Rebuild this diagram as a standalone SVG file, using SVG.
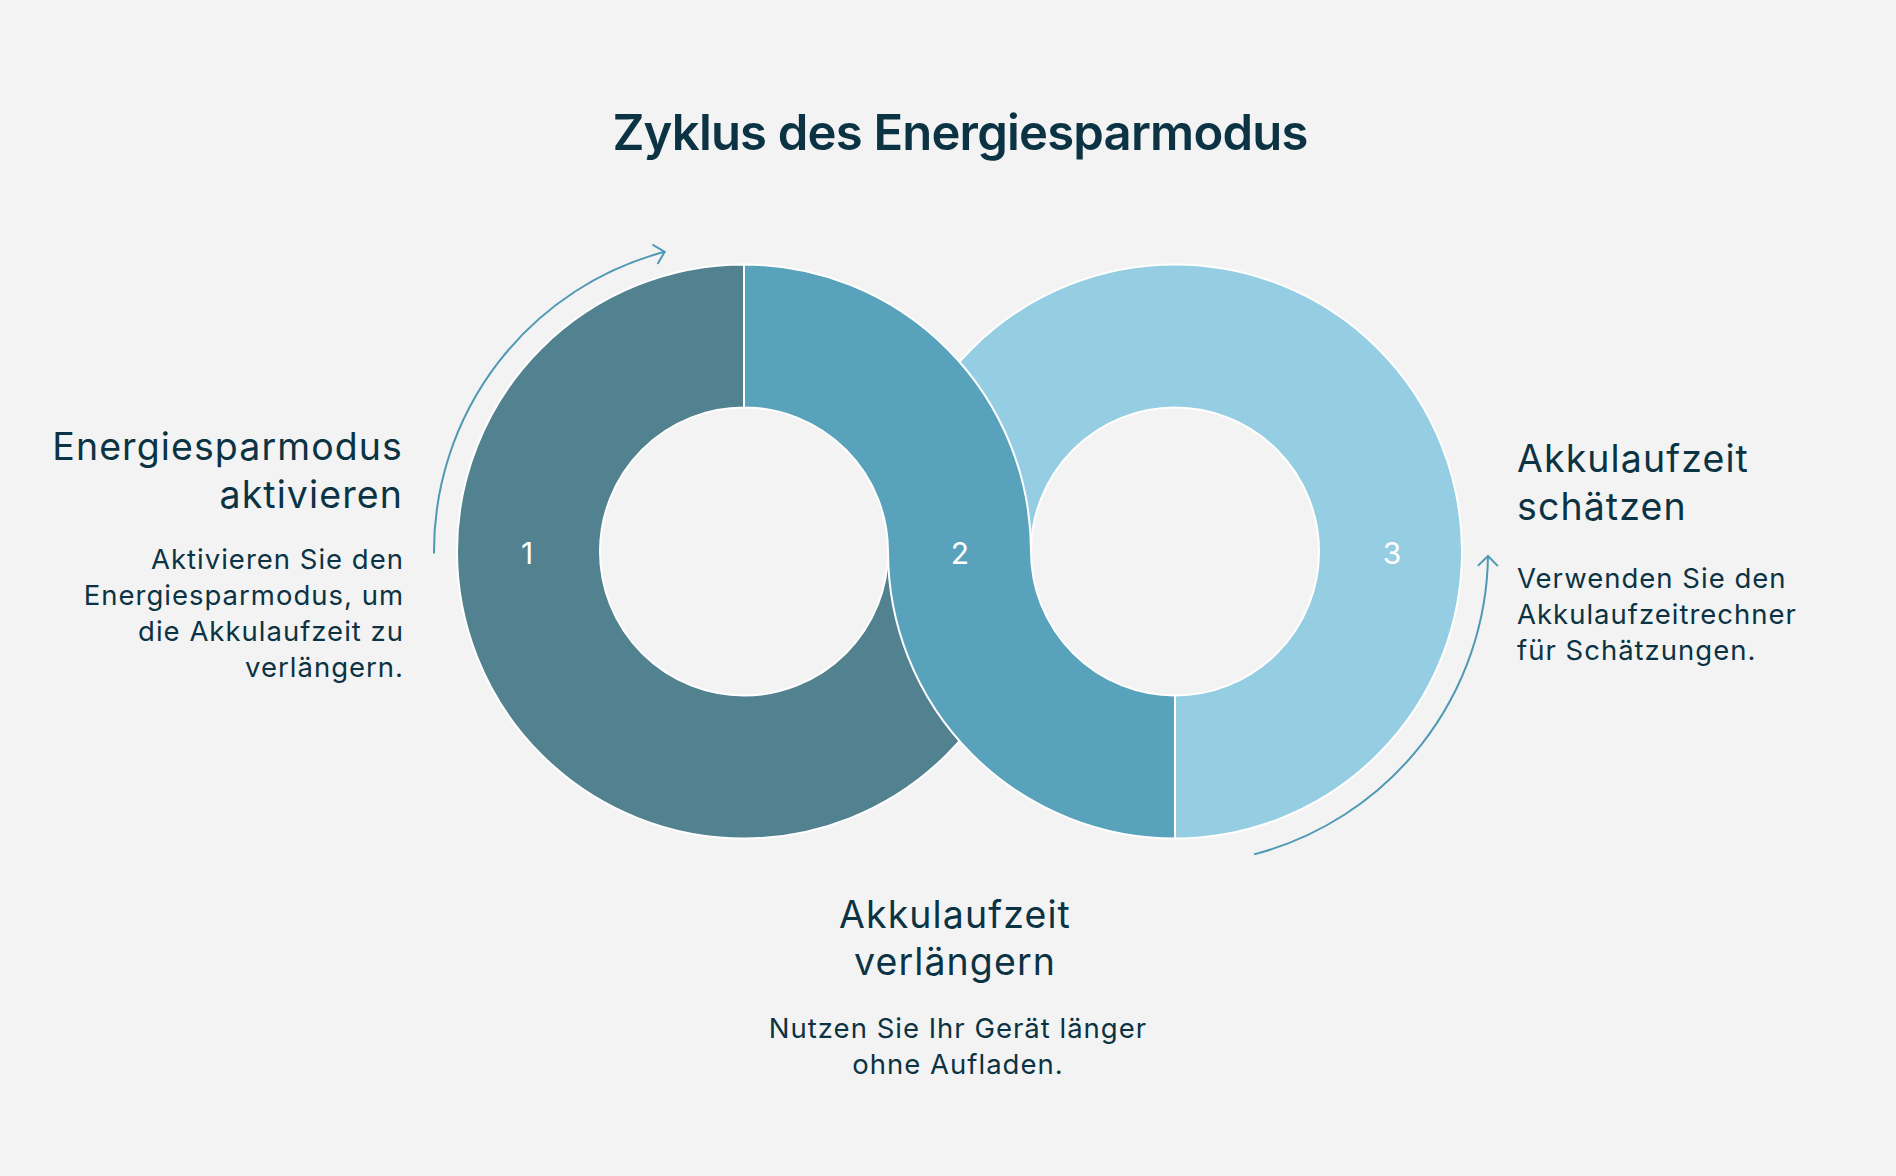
<svg xmlns="http://www.w3.org/2000/svg" width="1896" height="1176" viewBox="0 0 1896 1176">
<style>
.t{font-family:Inter,"Noto Sans",sans-serif;fill:#0b3344}
.title{font-size:49px;font-weight:600;letter-spacing:-0.8px}
.h{font-size:37.5px;letter-spacing:1.1px}
.b{font-size:27.5px;letter-spacing:1px}
.num{font-family:Inter,"Noto Sans",sans-serif;font-size:30px;fill:#ffffff;text-anchor:middle}
.seg{stroke:#ffffff;stroke-width:2;stroke-linejoin:round}
.arr{fill:none;stroke:#5099b4;stroke-width:2}
</style>
<defs>
<marker id="ah" markerUnits="userSpaceOnUse" markerWidth="30" markerHeight="30" viewBox="-15 -15 30 30" refX="0" refY="0" orient="auto">
<path d="M-10,-10 L0,0 L-10,10" fill="none" stroke="#5099b4" stroke-width="2"/>
</marker>
</defs>
<rect width="1896" height="1176" fill="#f3f3f3"/>
<text class="t title" x="960" y="150" text-anchor="middle">Zyklus des Energiesparmodus</text>
<g id="seg3">
<path class="seg" fill="#95cee2" d="M1175,838.5 A287,287 0 1 0 888,551.5 L1031,551.5 A144,144 0 1 1 1175,695.5 Z"/>
<text class="num" x="1392" y="564">3</text>
</g>
<g id="seg1">
<path class="seg" fill="#52818f" d="M744,264.5 A287,287 0 1 0 1031,551.5 L888,551.5 A144,144 0 1 1 744,407.5 Z"/>
<text class="num" x="527" y="564">1</text>
</g>
<g id="seg2">
<path class="seg" fill="#58a2bc" d="M744,264.5 A287,287 0 0 1 1031,551.5 A144,144 0 0 0 1175,695.5 L1175,838.5 A287,287 0 0 1 888,551.5 A144,144 0 0 0 744,407.5 Z"/>
<text class="num" x="960" y="564">2</text>
</g>
<g id="connectors">
<path class="arr" d="M434,553.5 A310,310 0 0 1 664.7,251.8" marker-end="url(#ah)"/>
<path class="arr" d="M1254,854.4 A313,313 0 0 0 1488,556" marker-end="url(#ah)"/>
</g>
<g id="step1">
<text class="t h" text-anchor="end"><tspan x="403" y="460">Energiesparmodus</tspan><tspan x="403" y="508">aktivieren</tspan></text>
<text class="t b" text-anchor="end"><tspan x="404" y="569">Aktivieren Sie den</tspan><tspan x="404" y="605">Energiesparmodus, um</tspan><tspan x="404" y="641">die Akkulaufzeit zu</tspan><tspan x="404" y="677">verlängern.</tspan></text>
</g>
<g id="step2">
<text class="t h" text-anchor="middle"><tspan x="955" y="928">Akkulaufzeit</tspan><tspan x="955" y="975">verlängern</tspan></text>
<text class="t b" text-anchor="middle"><tspan x="958" y="1038">Nutzen Sie Ihr Gerät länger</tspan><tspan x="958" y="1074">ohne Aufladen.</tspan></text>
</g>
<g id="step3">
<text class="t h"><tspan x="1517" y="472">Akkulaufzeit</tspan><tspan x="1517" y="520">schätzen</tspan></text>
<text class="t b"><tspan x="1517" y="588">Verwenden Sie den</tspan><tspan x="1517" y="624">Akkulaufzeitrechner</tspan><tspan x="1517" y="660">für Schätzungen.</tspan></text>
</g>
</svg>
